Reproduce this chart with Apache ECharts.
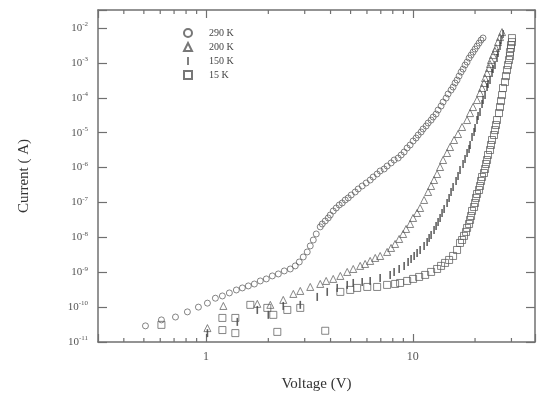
<!DOCTYPE html>
<html>
<head>
<meta charset="utf-8">
<script src="https://cdn.jsdelivr.net/npm/echarts@6/dist/echarts.min.js"></script>
<style>
  html, body { margin: 0; padding: 0; background: #fff; }
  #chart { width: 546px; height: 396px; }
</style>
</head>
<body>
<div id="chart"></div>
<script>
// I-V curves: [voltage (V), current (A)]
const k290 = [[0.509,2.9e-11],[0.608,4.3e-11],[0.711,5.2e-11],[0.812,7.3e-11],[0.918,1.0e-10],[1.015,1.3e-10],
  [1.109,1.8e-10],[1.199,2.09e-10],[1.296,2.55e-10],[1.401,3.1e-10],[1.498,3.55e-10],[1.601,4.05e-10],
  [1.712,4.6e-10],[1.829,5.63e-10],[1.956,6.43e-10],[2.091,7.84e-10],[2.236,8.94e-10],[2.389,1.09e-9],
  [2.554,1.24e-9],[2.70,1.52e-9],[2.823,1.97e-9],[2.951,2.74e-9],[3.085,3.82e-9],[3.19,5.68e-9],
  [3.30,8.4e-9],[3.411,1.25e-8],[3.566,2.0e-8],[3.646,2.42e-8],[3.77,2.95e-8],[3.897,3.6e-8],
  [3.986,4.38e-8],[4.121,5.71e-8],[4.261,6.95e-8],[4.406,8.47e-8],[4.555,9.68e-8],[4.710,1.18e-7],
  [4.869,1.35e-7],[5.035,1.64e-7],[5.264,2.0e-7],[5.442,2.44e-7],[5.69,2.97e-7],[5.949,3.62e-7],
  [6.22,4.4e-7],[6.43,5.38e-7],[6.72,6.56e-7],[6.951,8.0e-7],[7.266,9.12e-7],[7.513,1.11e-6],
  [7.855,1.36e-6],[8.124,1.65e-6],[8.492,1.88e-6],[8.781,2.30e-6],[9.078,2.8e-6],[9.386,3.65e-6],
  [9.705,4.45e-6],[10.03,5.78e-6],[10.37,7.05e-6],[10.61,8.6e-6],[10.97,1.05e-5],[11.21,1.28e-5],
  [11.60,1.56e-5],[11.86,1.90e-5],[12.26,2.3e-5],[12.54,2.82e-5],[12.96,3.43e-5],[13.25,4.47e-5],
  [13.70,5.82e-5],[14.01,7.59e-5],[14.49,9.86e-5],[14.81,1.29e-4],[15.31,1.67e-4],[15.66,2.04e-4],
  [16.01,2.66e-4],[16.37,3.24e-4],[16.74,4.21e-4],[17.12,5.48e-4],[17.50,6.69e-4],[17.89,8.7e-4],
  [18.30,1.06e-3],[18.71,1.38e-3],[19.13,1.68e-3],[19.56,2.05e-3],[20.00,2.50e-3],[20.45,3.05e-3],
  [20.91,3.72e-3],[21.38,4.53e-3],[21.86,5.2e-3]];

const k200 = [[1.015,2.5e-11],[1.212,1.08e-10],[1.769,1.24e-10],[2.045,1.16e-10],[2.362,1.61e-10],
  [2.642,2.39e-10],[2.855,2.91e-10],[3.19,3.79e-10],[3.566,4.62e-10],[3.81,5.63e-10],[4.121,6.43e-10],
  [4.46,7.84e-10],[4.816,1.02e-9],[5.15,1.24e-9],[5.564,1.52e-9],[5.88,1.73e-9],[6.219,2.11e-9],
  [6.58,2.57e-9],[6.951,2.93e-9],[7.513,3.82e-9],[7.85,4.97e-9],[8.213,6.47e-9],[8.59,9.0e-9],
  [8.978,1.25e-8],[9.28,1.74e-8],[9.705,2.42e-8],[10.03,3.6e-8],[10.49,5.0e-8],[10.85,6.95e-8],
  [11.34,1.18e-7],[11.86,2.0e-7],[12.26,2.97e-7],[12.67,4.41e-7],[13.11,6.56e-7],[13.55,1.04e-6],
  [14.01,1.65e-6],[14.65,2.62e-6],[15.14,3.89e-6],[15.83,6.18e-6],[16.55,9.18e-6],[17.31,1.46e-5],
  [18.30,2.31e-5],[18.92,3.66e-5],[19.56,5.45e-5],[20.45,8.65e-5],[21.14,1.37e-4],[21.62,1.91e-4],
  [22.10,2.66e-4],[22.36,3.69e-4],[22.86,5.14e-4],[23.37,7.14e-4],[23.63,9.3e-4],[23.89,1.21e-3],
  [24.43,1.68e-3],[24.98,2.19e-3],[25.26,2.67e-3],[25.83,3.97e-3],[26.41,5.52e-3],[27.01,7.68e-3]];

const k150 = [[1.015,1.8e-11],[1.416,3.77e-11],[1.769,8.3e-11],[2.000,6.0e-11],[2.362,1.08e-10],
  [2.855,1.16e-10],[3.449,1.96e-10],[3.855,2.73e-10],[4.308,3.55e-10],[4.816,4.33e-10],[5.15,4.93e-10],
  [5.69,5.27e-10],[6.22,5.63e-10],[6.95,6.87e-10],[7.77,8.37e-10],[8.12,1.02e-9],[8.59,1.24e-9],
  [9.08,1.52e-9],[9.49,1.97e-9],[9.81,2.40e-9],[10.15,2.93e-9],[10.49,3.57e-9],[10.85,4.35e-9],
  [11.34,5.68e-9],[11.73,7.38e-9],[11.99,9.6e-9],[12.26,1.17e-8],[12.67,1.63e-8],[12.96,2.12e-8],
  [13.25,2.76e-8],[13.55,3.6e-8],[13.85,5.0e-8],[14.17,6.52e-8],[14.65,9.68e-8],[14.98,1.35e-7],
  [15.31,2.0e-7],[15.66,2.78e-7],[16.19,4.13e-7],[16.55,5.74e-7],[16.92,8.53e-7],[17.50,1.27e-6],
  [17.89,1.76e-6],[18.30,2.62e-6],[18.71,3.41e-6],[18.92,4.45e-6],[19.34,7.53e-6],[19.78,1.05e-5],
  [20.0,1.36e-5],[20.45,2.31e-5],[20.68,3.01e-5],[21.14,3.92e-5],[21.62,6.64e-5],[21.86,8.65e-5],
  [22.36,1.2e-4],[22.86,2.04e-4],[23.11,2.49e-4],[23.63,3.24e-4],[24.16,5.14e-4],[24.43,6.69e-4],
  [24.98,8.7e-4],[25.54,1.38e-3],[25.83,1.92e-3],[26.41,3.05e-3],[26.71,4.53e-3],[27.31,6.73e-3]];

const k15 = [[0.608,3.1e-11],[1.199,4.9e-11],[1.199,2.2e-11],[1.385,4.9e-11],[1.385,1.8e-11],
  [1.637,1.16e-10],[1.978,9.5e-11],[2.114,6.0e-11],[2.211,1.95e-11],[2.471,8.3e-11],[2.855,9.5e-11],
  [3.770,2.1e-11],[4.46,2.73e-10],[4.98,3.11e-10],[5.38,3.55e-10],[6.02,3.79e-10],[6.72,3.79e-10],
  [7.51,4.33e-10],[8.21,4.62e-10],[8.68,4.93e-10],[9.39,5.63e-10],[10.03,6.43e-10],[10.73,7.33e-10],
  [11.47,8.37e-10],[12.26,1.02e-9],[13.11,1.24e-9],[13.70,1.52e-9],[14.32,1.85e-9],[14.98,2.25e-9],
  [15.66,2.93e-9],[16.37,4.35e-9],[16.92,6.92e-9],[17.31,8.4e-9],[17.69,1.10e-8],[18.09,1.43e-8],
  [18.30,1.86e-8],[18.71,2.42e-8],[18.92,3.15e-8],[19.13,4.1e-8],[19.34,5.71e-8],[19.78,7.43e-8],
  [20.0,9.68e-8],[20.22,1.35e-7],[20.45,1.75e-7],[20.91,2.28e-7],[21.14,2.97e-7],[21.38,4.13e-7],
  [21.62,5.38e-7],[22.10,7.0e-7],[22.36,9.12e-7],[22.60,1.27e-6],[22.86,1.65e-6],[23.11,2.30e-6],
  [23.63,3.19e-6],[23.89,4.45e-6],[24.16,6.18e-6],[24.70,8.6e-6],[24.98,1.19e-5],[25.26,1.66e-5],
  [25.54,2.31e-5],[26.12,3.66e-5],[26.41,5.45e-5],[26.71,8.1e-5],[27.01,1.2e-4],[27.31,1.91e-4],
  [27.92,2.84e-4],[28.23,4.21e-4],[28.55,6.26e-4],[28.87,8.7e-4],[29.19,1.21e-3],[29.51,1.58e-3],
  [29.51,2.05e-3],[29.85,2.67e-3],[29.85,3.26e-3],[30.18,3.97e-3],[30.18,5.17e-3]];

const legendNames = ['290 K', '200 K', '150 K', '15 K'];
// minor tick positions on the log voltage axis
const minorX = [0.4, 0.5, 0.6, 0.7, 0.8, 0.9, 2, 3, 4, 5, 6, 7, 8, 9, 20, 30];

const FONT = 'Liberation Serif, Times New Roman, serif';
const INK = '#555';
const BAR = 'path://M0,0h2v10h-2z';

const chart = echarts.init(document.getElementById('chart'), null, { renderer: 'canvas' });

const isDecade = (v) => Math.abs(Math.log10(v) - Math.round(Math.log10(v))) < 1e-6;

const frame = { show: true, onZero: false, lineStyle: { color: '#707070', width: 1.5 } };

function xAxisCfg(pos, labels) {
  return {
    type: 'log', position: pos, min: 0.3, max: 39, logBase: 10,
    axisLine: frame,
    axisTick: { show: true, inside: true, length: 8, lineStyle: { color: '#707070', width: 1.2 } },
    splitLine: { show: false },
    axisLabel: {
      show: labels, margin: 9, color: INK, fontFamily: FONT, fontSize: 12,
      formatter: (v) => isDecade(v) ? String(Math.round(v)) : ''
    }
  };
}

function yAxisCfg(pos, labels) {
  return {
    type: 'log', position: pos, min: 1e-11, max: 0.033, logBase: 10,
    axisLine: frame,
    axisTick: { show: true, inside: true, length: 9, lineStyle: { color: '#707070', width: 1.2 } },
    splitLine: { show: false },
    axisLabel: {
      show: labels, margin: 10, color: INK, fontFamily: FONT,
      formatter: (v) => isDecade(v) ? '{b|10}{s|' + Math.round(Math.log10(v)) + '}' : '',
      rich: {
        b: { fontFamily: FONT, fontSize: 11, color: INK },
        s: { fontFamily: FONT, fontSize: 7, color: INK, padding: [0, 0, 7, 0] }
      }
    }
  };
}

const hollow = { color: 'rgba(0,0,0,0)', borderColor: INK, borderWidth: 0.9 };

chart.setOption({
  animation: false,
  backgroundColor: '#fff',
  grid: { left: 98, top: 10, right: 11, bottom: 54, outerBoundsMode: 'none' },
  legend: {
    orient: 'vertical', left: 178, top: 22, itemWidth: 8, itemHeight: 8, itemGap: 2,
    data: legendNames.map((n) => n === '150 K' ? { name: n, icon: BAR } : n),
    formatter: (name) => '{p|}{t|' + name + '}',
    textStyle: {
      lineHeight: 12,
      rich: {
        p: { width: 12 },
        t: { fontFamily: FONT, fontSize: 10, color: '#444' }
      }
    }
  },
  xAxis: [
    Object.assign(xAxisCfg('bottom', true), {
      name: 'Voltage (V)', nameLocation: 'middle', nameGap: 35,
      nameTextStyle: { fontFamily: FONT, fontSize: 15, color: '#333' }
    }),
    xAxisCfg('top', false)
  ],
  yAxis: [
    Object.assign(yAxisCfg('left', true), {
      name: 'Current ( A)', nameLocation: 'middle', nameGap: 66,
      nameTextStyle: { fontFamily: FONT, fontSize: 15, color: '#333' }
    }),
    yAxisCfg('right', false)
  ],
  series: [
    { name: '290 K', type: 'scatter', data: k290, symbol: 'circle', symbolSize: 6, itemStyle: hollow },
    { name: '200 K', type: 'scatter', data: k200, symbol: 'triangle', symbolSize: 7, itemStyle: hollow },
    { name: '150 K', type: 'scatter', data: k150, symbol: 'rect', symbolSize: [1.6, 8],
      itemStyle: { color: '#3a3a3a' } },
    { name: '15 K', type: 'scatter', data: k15, symbol: 'rect', symbolSize: 7, itemStyle: hollow },
    {
      type: 'custom', silent: true, data: minorX.map((v) => [v, 1e-11]),
      renderItem: (params, api) => {
        const p = api.coord([api.value(0), 1e-11]);
        const cs = params.coordSys;
        const st = { stroke: '#707070', lineWidth: 1.2 };
        return {
          type: 'group', children: [
            { type: 'line', shape: { x1: p[0], y1: cs.y + cs.height, x2: p[0], y2: cs.y + cs.height - 4 }, style: st },
            { type: 'line', shape: { x1: p[0], y1: cs.y, x2: p[0], y2: cs.y + 4 }, style: st }
          ]
        };
      }
    }
  ]
});
</script>
</body>
</html>
